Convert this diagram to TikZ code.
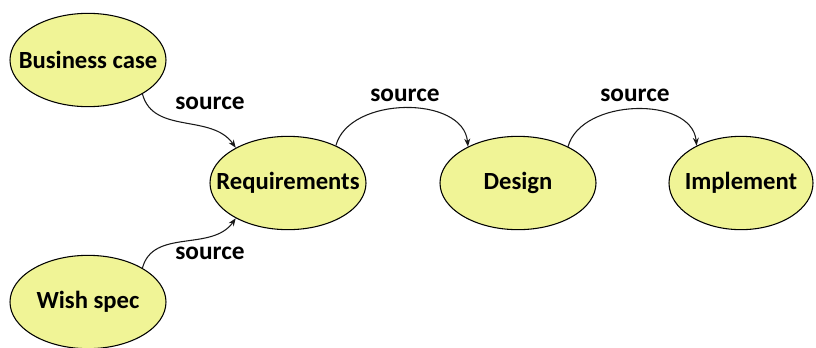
\documentclass[tikz,border=0pt]{standalone}
\usepackage{fontspec}
\setmainfont{Carlito}
\usepackage{xcolor}
\usepackage{tikz}
\usetikzlibrary{arrows.meta,shapes.geometric}

\definecolor{stagefill}{RGB}{240,244,150}

\begin{document}
\begin{tikzpicture}[x=0.75pt, y=-0.75pt, >={Stealth[length=6pt,width=4.5pt]}, font=\bfseries\fontsize{18.5}{20}\selectfont,
    stage/.style={ellipse, draw=black, thick, fill=stagefill, inner xsep=-16pt, inner ysep=0pt,
                  minimum width=117pt, minimum height=70pt},
    flow/.style={->, thick, black!90},
    lbl/.style={font=\bfseries\fontsize{19}{21}\selectfont, inner sep=1pt}]

  \useasboundingbox (0,0) rectangle (816,347);

  %--- Stages --------------------------------------------------------------
  \node[stage] (bcase) at (88,60)  {Business case};
  \node[stage] (wish)  at (88,302) {Wish spec};
  \node[stage] (req)   at (288,183) {Requirements};
  \node[stage] (des)   at (518,183) {Design};
  \node[stage, minimum width=108pt] (impl) at (741,183) {Implement};

  %--- Source links --------------------------------------------------------
  \draw[flow] (bcase.-32) to[out=-75, in=125] (req.146);
  \draw[flow] (wish.32)   to[out=75,  in=-125] (req.-146);
  \draw[flow] (req.38)    to[out=75,  in=95]  (des.144);
  \draw[flow] (des.36)    to[out=75,  in=95]  (impl.140);

  %--- Link labels ---------------------------------------------------------
  \node[lbl] (l1) at (210,103) {source};
  \node[lbl] (l2) at (210,253) {source};
  \node[lbl] (l3) at (405,95)  {source};
  \node[lbl] (l4) at (635,95)  {source};

\end{tikzpicture}
\end{document}
